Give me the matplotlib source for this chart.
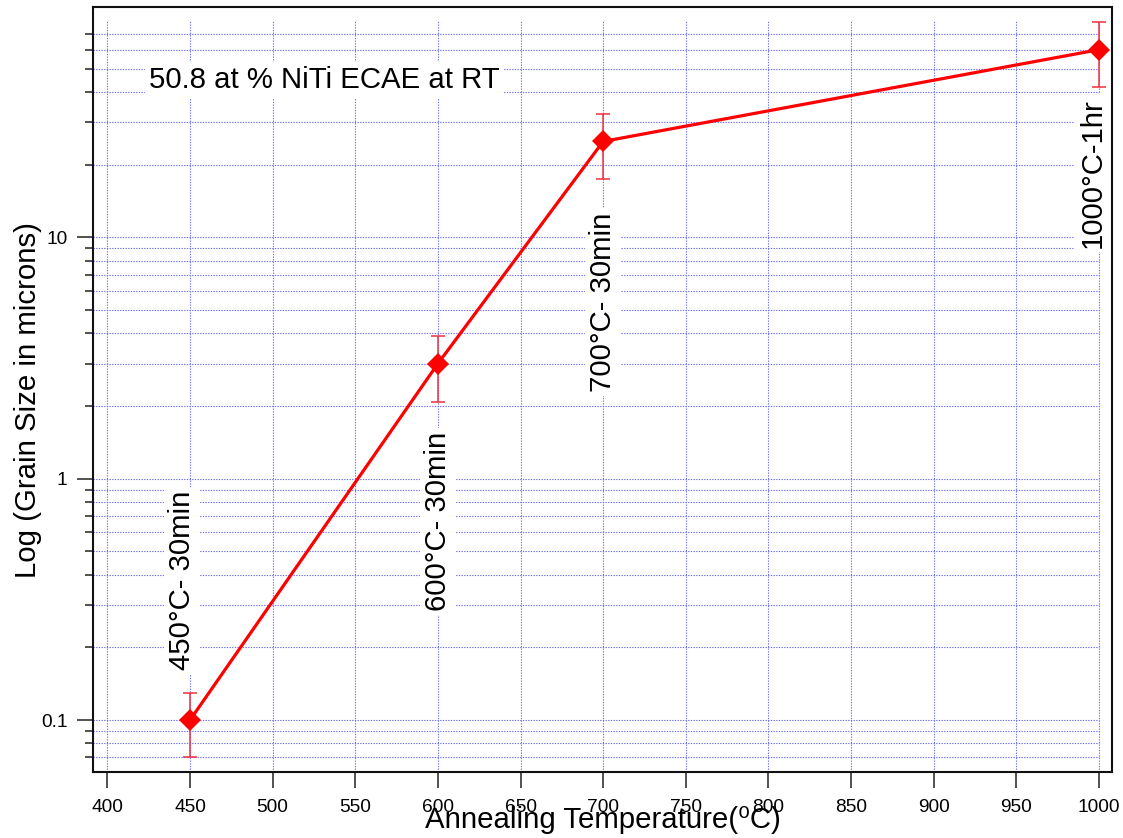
import numpy as np
import matplotlib
matplotlib.use("Agg")
import matplotlib.pyplot as plt
from matplotlib.ticker import FixedLocator, NullFormatter, FixedFormatter

plt.rcParams['font.family'] = ['Liberation Sans', 'DejaVu Sans']

# Annealing temperature (°C) and measured grain size (microns)
temperature = [450, 600, 700, 1000]
grain_size = [0.1, 3.0, 25.0, 60.0]
err_upper = [0.13, 3.9, 32.5, 78.5]
err_lower = [0.07, 2.08, 17.4, 42.2]
labels = ["450°C- 30min", "600°C- 30min", "700°C- 30min", "1000°C-1hr"]

x_ticks = [400, 450, 500, 550, 600, 650, 700, 750, 800, 850, 900, 950, 1000]
y_major = [0.1, 1, 10]
y_major_labels = ["0.1", "1", "10"]
y_minor = [0.07, 0.08, 0.09,
           0.2, 0.3, 0.4, 0.5, 0.6, 0.7, 0.8, 0.9,
           2, 3, 4, 5, 6, 7, 8, 9,
           20, 30, 40, 50, 60, 70]

# layout
XMIN, XMAX = 391.3, 1007.7
YMIN, YMAX = 0.0611, 89.9
GRID_YTOP = 79.0
FS = 21.2

fig = plt.figure(figsize=(11.23, 8.38), dpi=100)
ax = fig.add_axes([0.0828, 0.0791, 0.9899 - 0.0828, 0.9913 - 0.0791])
ax.set_yscale('log')
ax.set_xlim(XMIN, XMAX)
ax.set_ylim(YMIN, YMAX)

# dotted blue grid, bounded to the data range
grid_kw = dict(color='#6f6fff', linewidth=0.8, linestyles=(0, (1.2, 1.2)), zorder=1)
ax.hlines(y_major + y_minor, XMIN, x_ticks[-1], **grid_kw)
ax.vlines(x_ticks, YMIN, GRID_YTOP, **grid_kw)

# error bars
y = np.array(grain_size)
yerr = np.vstack([y - np.array(err_lower), np.array(err_upper) - y])
ax.errorbar(temperature, grain_size, yerr=yerr, fmt='none', ecolor='#f0303c',
            elinewidth=1.1, capsize=5, capthick=1.1, zorder=3)
ax.plot(temperature, grain_size, color='#ff0000', linewidth=2.3, zorder=4)
ax.plot(temperature, grain_size, linestyle='none', marker='D', markersize=11.7,
        color='#ff0000', markeredgewidth=0, zorder=5)

# ticks
ax.xaxis.set_major_locator(FixedLocator(x_ticks))
ax.yaxis.set_major_locator(FixedLocator(y_major))
ax.yaxis.set_major_formatter(FixedFormatter(y_major_labels))
ax.yaxis.set_minor_locator(FixedLocator(y_minor))
ax.yaxis.set_minor_formatter(NullFormatter())
ax.tick_params(axis='both', which='major', direction='out', length=11.5, width=1.1,
               color='#222222', labelsize=13.8, labelcolor='black')
ax.tick_params(axis='x', which='major', pad=8)
ax.tick_params(axis='y', which='major', pad=7)
ax.tick_params(axis='y', which='minor', direction='out', length=5.8, width=1.1,
               color='#222222')
ax.tick_params(axis='x', which='minor', length=0)

for s in ax.spines.values():
    s.set_linewidth(1.5)
    s.set_color('#111111')

box = dict(facecolor='white', edgecolor='none', pad=3)

# condition labels beside each point
label_x = [445, 600, 700, 996]
label_y = [0.161, 0.283, 2.29, 9.03]
for lx, ly, txt in zip(label_x, label_y, labels):
    ax.text(lx, ly, txt, rotation=90, ha='center', va='bottom', fontsize=FS,
            bbox=box, zorder=2)

ax.text(425, 41.6, "50.8 at % NiTi ECAE at RT", ha='left', va='baseline',
        fontsize=FS, bbox=box, zorder=2)

fig.text(0.5365, 0.0119, "Annealing Temperature(\u2070C)", ha='center',
         va='baseline', fontsize=FS)
fig.text(0.0245, 0.5227, "Log (Grain Size in microns)", rotation=90, ha='center',
         va='center', fontsize=FS)

fig.savefig("out.png", dpi=100)
